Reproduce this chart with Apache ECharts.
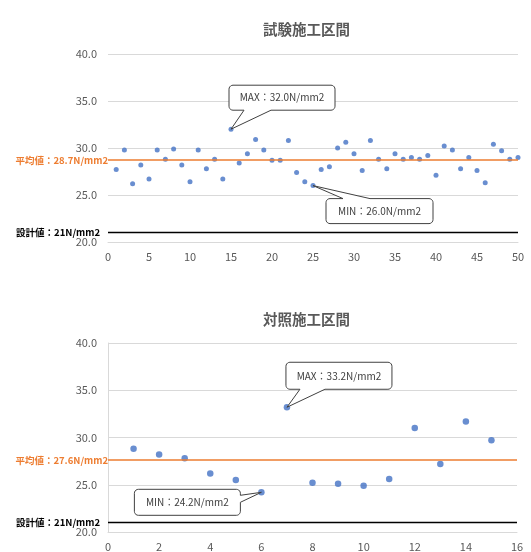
<!DOCTYPE html>
<html>
<head>
<meta charset="utf-8">
<script src="https://cdn.jsdelivr.net/npm/echarts@6/dist/echarts.min.js"></script>
<style>
  html, body { margin: 0; padding: 0; background: #fff; }
  #chart { width: 531px; height: 552px; }
</style>
</head>
<body>
<div id="chart"></div>
<script>
// 試験施工区間: strength per sample (N/mm2)
const trialNo = Array.from({ length: 50 }, (_, i) => i + 1);
const trialValues = [
  27.7, 29.8, 26.2, 28.2, 26.7, 29.8, 28.8, 29.9, 28.2, 26.4,
  29.8, 27.8, 28.8, 26.7, 32.0, 28.4, 29.4, 30.9, 29.8, 28.7,
  28.7, 30.8, 27.4, 26.4, 26.0, 27.7, 28.0, 30.0, 30.6, 29.4,
  27.6, 30.8, 28.8, 27.8, 29.4, 28.8, 29.0, 28.8, 29.2, 27.1,
  30.2, 29.8, 27.8, 29.0, 27.6, 26.3, 30.4, 29.7, 28.8, 29.0
];
// 対照施工区間
const controlNo = Array.from({ length: 15 }, (_, i) => i + 1);
const controlValues = [
  28.8, 28.2, 27.8, 26.2, 25.5, 24.2, 33.2, 25.2, 25.1, 24.9,
  25.6, 31.0, 27.2, 31.7, 29.7
];

const titles = ['試験施工区間', '対照施工区間'];
const averages = [28.7, 27.6];
const designValue = 21;
const yRange = { min: 20, max: 40, interval: 5 };
const xRanges = [{ min: 0, max: 50, interval: 5 }, { min: 0, max: 16, interval: 2 }];

const FONT = '"Noto Sans CJK JP", "Noto Sans", sans-serif';
const GRAY = '#595959';
const GRID_LINE = '#d9d9d9';
const BLUE = '#4472C4';
const ORANGE = '#ED7D31';

const chart = echarts.init(document.getElementById('chart'), null, { renderer: 'canvas' });

function pairs(xs, ys) { return xs.map((x, i) => [x, ys[i]]); }

function refLines(avg) {
  return {
    silent: true,
    symbol: 'none',
    animation: false,
    data: [
      {
        yAxis: avg,
        lineStyle: { color: ORANGE, width: 1.6, type: 'solid' },
        label: {
          show: true, position: 'start', distance: 0,
          formatter: '平均値：' + avg.toFixed(1) + 'N/mm2',
          color: ORANGE, fontSize: 9.5, fontFamily: FONT, fontWeight: 'bold'
        }
      },
      {
        yAxis: designValue,
        lineStyle: { color: '#000', width: 1.4, type: 'solid' },
        label: {
          show: true, position: 'start', distance: 8,
          formatter: '設計値：' + designValue + 'N/mm2',
          color: '#000', fontSize: 9.5, fontFamily: FONT, fontWeight: 'bold'
        }
      }
    ]
  };
}

const grids = [
  { left: 108, right: 13, top: 54, height: 188 },
  { left: 108, right: 14, top: 343, height: 189.5 }
];

const option = {
  animation: false,
  textStyle: { fontFamily: FONT },
  title: [
    { text: titles[0], left: 258, top: 17, textStyle: { fontSize: 14.5, fontWeight: 'bold', color: GRAY, fontFamily: FONT } },
    { text: titles[1], left: 258, top: 307, textStyle: { fontSize: 14.5, fontWeight: 'bold', color: GRAY, fontFamily: FONT } }
  ],
  grid: grids,
  xAxis: xRanges.map((r, i) => ({
    type: 'value', gridIndex: i, min: r.min, max: r.max, interval: r.interval,
    axisLine: { show: true, lineStyle: { color: GRID_LINE, width: 1 } },
    axisTick: { show: false },
    splitLine: { show: false },
    axisLabel: { color: GRAY, fontSize: 11, margin: 9, fontFamily: FONT }
  })),
  yAxis: [0, 1].map(i => ({
    type: 'value', gridIndex: i, min: yRange.min, max: yRange.max, interval: yRange.interval,
    axisLine: { show: i === 1, lineStyle: { color: GRID_LINE, width: 1 } },
    axisTick: { show: false },
    splitLine: { show: true, lineStyle: { color: GRID_LINE, width: 1 } },
    axisLabel: { color: GRAY, fontSize: 11, margin: 11, fontFamily: FONT, formatter: v => v.toFixed(1) }
  })),
  series: [
    {
      type: 'scatter', xAxisIndex: 0, yAxisIndex: 0,
      data: pairs(trialNo, trialValues),
      symbolSize: 5, itemStyle: { color: BLUE },
      markLine: refLines(averages[0]), z: 3
    },
    {
      type: 'scatter', xAxisIndex: 1, yAxisIndex: 1,
      data: pairs(controlNo, controlValues),
      symbolSize: 6.5, itemStyle: { color: BLUE },
      markLine: refLines(averages[1]), z: 3
    }
  ]
};
chart.setOption(option);

// Quarter-circle corner points, from angle a0 to a1 (radians)
function arcPts(cx, cy, r, a0, a1) {
  const pts = [];
  const n = 5;
  for (let k = 0; k <= n; k++) {
    const t = a0 + (a1 - a0) * k / n;
    pts.push([cx + r * Math.cos(t), cy + r * Math.sin(t)]);
  }
  return pts;
}

// Rounded box outline with a pointer wedge running out to (tx, ty)
function calloutPoints(x, y, w, h, r, side, a, b, tx, ty) {
  const P = Math.PI;
  let pts = [];
  pts = pts.concat(arcPts(x + r, y + r, r, P, 1.5 * P));
  if (side === 'top') pts.push([x + a, y], [tx, ty], [x + b, y]);
  pts = pts.concat(arcPts(x + w - r, y + r, r, 1.5 * P, 2 * P));
  if (side === 'right') pts.push([x + w, y + a], [tx, ty], [x + w, y + b]);
  pts = pts.concat(arcPts(x + w - r, y + h - r, r, 0, 0.5 * P));
  if (side === 'bottom') pts.push([x + b, y + h], [tx, ty], [x + a, y + h]);
  pts = pts.concat(arcPts(x + r, y + h - r, r, 0.5 * P, P));
  return pts;
}

function findIndex(values, pick) {
  return values.indexOf(pick(...values));
}

const calloutSpecs = [
  { series: 0, xs: trialNo, ys: trialValues, kind: 'MAX', dx: -2, dy: -44, w: 106, h: 25, side: 'bottom', a: 15, b: 42 },
  { series: 0, xs: trialNo, ys: trialValues, kind: 'MIN', dx: 13, dy: 13, w: 107, h: 25, side: 'top', a: 17, b: 44 },
  { series: 1, xs: controlNo, ys: controlValues, kind: 'MAX', dx: -1, dy: -45, w: 106, h: 27, side: 'bottom', a: 14, b: 39 },
  { series: 1, xs: controlNo, ys: controlValues, kind: 'MIN', dx: -127, dy: -3, w: 106, h: 26, side: 'right', a: 6, b: 13 }
];

const graphics = [];
calloutSpecs.forEach(s => {
  const idx = findIndex(s.ys, s.kind === 'MAX' ? Math.max : Math.min);
  const p = chart.convertToPixel({ seriesIndex: s.series }, [s.xs[idx], s.ys[idx]]);
  const bx = p[0] + s.dx, by = p[1] + s.dy;
  graphics.push({
    type: 'polygon', z: 10,
    shape: { points: calloutPoints(bx, by, s.w, s.h, 4, s.side, s.a, s.b, p[0], p[1]) },
    style: { fill: '#fff', stroke: '#404040', lineWidth: 1 }
  });
  graphics.push({
    type: 'text', z: 11,
    x: bx + s.w / 2, y: by + s.h / 2,
    style: {
      text: s.kind + '：' + s.ys[idx].toFixed(1) + 'N/mm2',
      fill: '#404040', font: '10px ' + FONT, align: 'center', verticalAlign: 'middle'
    }
  });
});
chart.setOption({ graphic: graphics });
</script>
</body>
</html>
